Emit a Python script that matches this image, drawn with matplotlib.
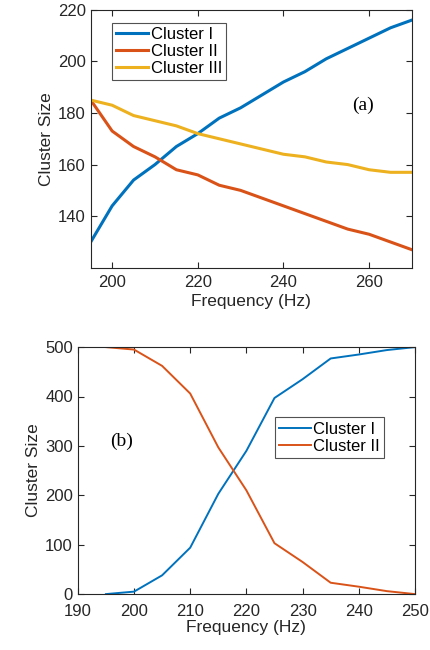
import matplotlib
matplotlib.use("Agg")
import matplotlib.pyplot as plt

plt.rcParams['font.family'] = ['Liberation Sans', 'DejaVu Sans']

# Panel (a)
freq_a = [195, 200, 205, 210, 215, 220, 225, 230, 235, 240, 245, 250, 255, 260, 265, 270]
cluster1_a = [130, 144, 154, 160, 167, 172, 178, 182, 187, 192, 196, 201, 205, 209, 213, 216]
cluster2_a = [185, 173, 167, 163, 158, 156, 152, 150, 147, 144, 141, 138, 135, 133, 130, 127]
cluster3_a = [185, 183, 179, 177, 175, 172, 170, 168, 166, 164, 163, 161, 160, 158, 157, 157]
labels_a = ["Cluster I", "Cluster II", "Cluster III"]

# Panel (b)
freq_b = [195, 200, 205, 210, 215, 220, 225, 230, 235, 240, 245, 250]
cluster1_b = [0, 5, 38, 94, 203, 290, 397, 435, 477, 485, 494, 500]
cluster2_b = [500, 495, 462, 406, 297, 210, 103, 65, 23, 15, 6, 0]
labels_b = ["Cluster I", "Cluster II"]

c_blue = '#0072BD'
c_red = '#D95319'
c_yel = '#EDB120'
axcol = '#262626'

fig = plt.figure(figsize=(4.3, 6.5), dpi=100)

def style(ax, xpad=5):
    for s in ax.spines.values():
        s.set_color(axcol)
        s.set_linewidth(0.8)
    ax.tick_params(direction='in', top=True, right=True, colors=axcol,
                   labelsize=12, length=4, width=0.8, labelcolor='#262626')
    ax.tick_params(axis='x', pad=xpad)

def legend(ax, anchor):
    leg = ax.legend(loc='upper left', bbox_to_anchor=anchor, fontsize=12,
                    frameon=True, fancybox=False, handlelength=1.9, handletextpad=0.15,
                    borderpad=0.25, labelspacing=0.12, borderaxespad=0)
    leg.get_frame().set_edgecolor(axcol)
    leg.get_frame().set_linewidth(0.8)
    return leg

ax1 = fig.add_axes([0.211, 0.588, 0.747, 0.397])
ax1.plot(freq_a, cluster1_a, color=c_blue, lw=2.2, label=labels_a[0])
ax1.plot(freq_a, cluster2_a, color=c_red, lw=2.2, label=labels_a[1])
ax1.plot(freq_a, cluster3_a, color=c_yel, lw=2.2, label=labels_a[2])
ax1.set_xlim(195, 270)
ax1.set_ylim(120, 220)
ax1.set_xticks([200, 220, 240, 260])
ax1.set_yticks([140, 160, 180, 200, 220])
ax1.set_xlabel("Frequency (Hz)", fontsize=12.5, color='#262626', labelpad=3)
ax1.set_ylabel("Cluster Size", fontsize=12.5, color='#262626', labelpad=3)
style(ax1)
legend(ax1, (0.067, 0.95))
ax1.text(258.5, 183, "(a)", fontsize=14, family=['Liberation Serif'], ha='center', va='center')

ax2 = fig.add_axes([0.181, 0.086, 0.784, 0.380])
ax2.plot(freq_b, cluster1_b, color=c_blue, lw=1.4, label=labels_b[0])
ax2.plot(freq_b, cluster2_b, color=c_red, lw=1.4, label=labels_b[1])
ax2.set_xlim(190, 250)
ax2.set_ylim(0, 500)
ax2.set_xticks([190, 200, 210, 220, 230, 240, 250])
ax2.set_yticks([0, 100, 200, 300, 400, 500])
ax2.set_xlabel("Frequency (Hz)", fontsize=12.5, color='#262626', labelpad=1)
ax2.set_ylabel("Cluster Size", fontsize=12.5, color='#262626', labelpad=3)
style(ax2, xpad=7)
legend(ax2, (0.585, 0.715))
ax2.text(197.7, 310, "(b)", fontsize=14, family=['Liberation Serif'], ha='center', va='center')

fig.savefig("out.png", dpi=100)
